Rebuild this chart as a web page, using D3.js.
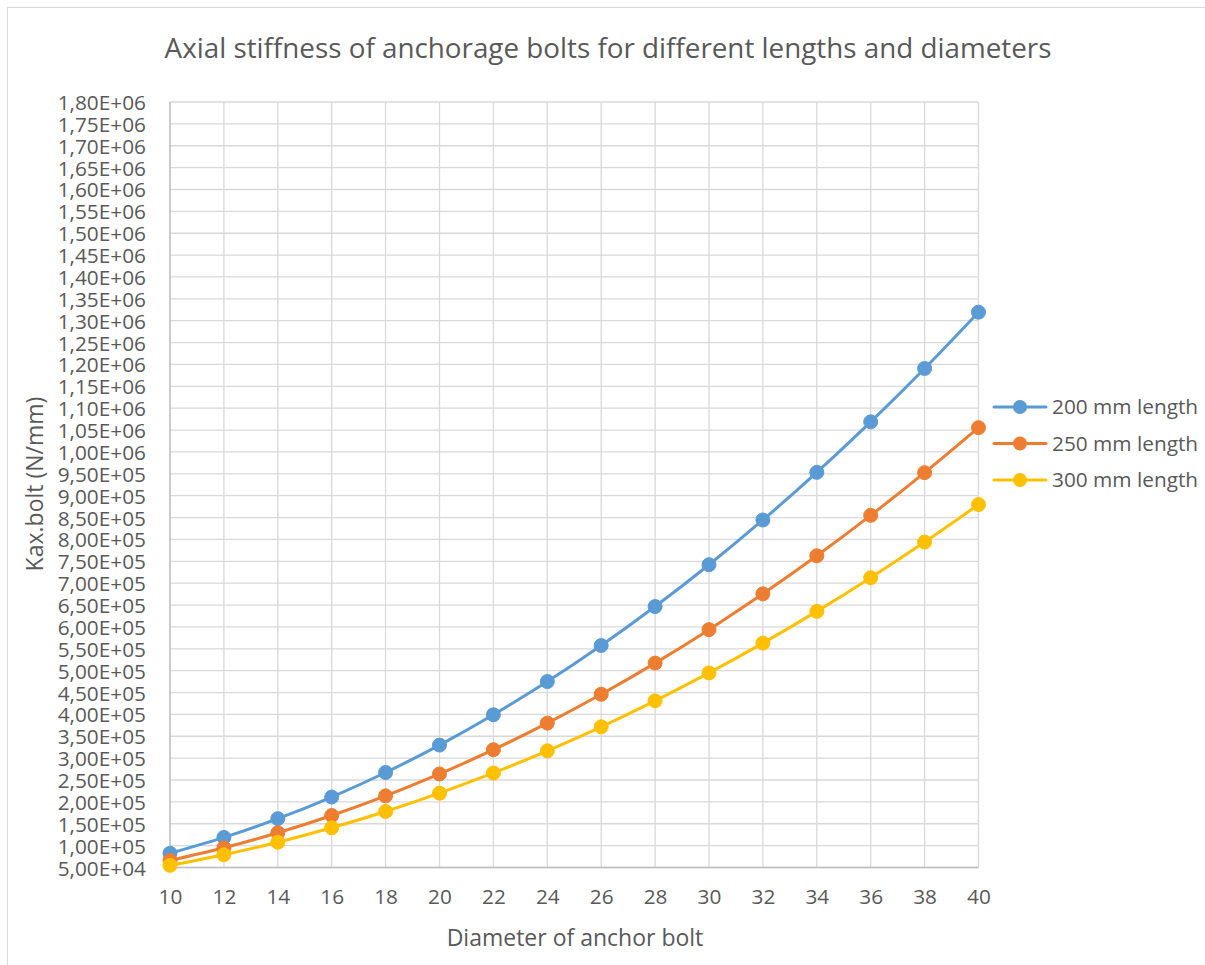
<!DOCTYPE html>
<html>
<head>
<meta charset="utf-8">
<script src="https://cdn.jsdelivr.net/npm/d3@7"></script>
<style>
  html, body { margin: 0; padding: 0; background: #fff; }
  svg { display: block; }
  text { font-family: "Open Sans", "Liberation Sans", sans-serif; fill: #595959; }
</style>
</head>
<body>
<svg id="chart" width="1205" height="965"></svg>
<script>
const diameters = [10, 12, 14, 16, 18, 20, 22, 24, 26, 28, 30, 32, 34, 36, 38, 40];
const len200 = [82467, 118752, 161635, 211115, 267192, 329867, 399139, 475009, 557476, 646540, 742201, 844460, 953316, 1068770, 1190820, 1319469];
const len250 = [65973, 95002, 129308, 168892, 213754, 263894, 319311, 380007, 445980, 517232, 593761, 675568, 762652, 855015, 952656, 1055575];
const len300 = [54978, 79168, 107757, 140743, 178128, 219911, 266093, 316673, 371651, 431027, 494801, 562974, 635545, 712513, 793880, 879646];
const seriesNames = ["200 mm length", "250 mm length", "300 mm length"];
const seriesColors = ["#5B9BD5", "#ED7D31", "#FFC000"];
const yTicks = d3.range(50000, 1800001, 50000);
const titleText = "Axial stiffness of anchorage bolts for different lengths and diameters";
const xTitle = "Diameter of anchor bolt";
const yTitle = "Kax.bolt (N/mm)";

const series = [len200, len250, len300].map((vals, i) => ({
  name: seriesNames[i], color: seriesColors[i],
  points: vals.map((v, j) => ({ x: diameters[j], y: v }))
}));

const FONT = "'Open Sans', sans-serif";
const svg = d3.select("#chart");
const plot = { left: 170, top: 102, right: 978.5, bottom: 867.5 };

// chart border
svg.append("rect").attr("x", 7.5).attr("y", 7.5).attr("width", 1205).attr("height", 965)
  .attr("fill", "none").attr("stroke", "#d9d9d9").attr("stroke-width", 1);

const x = d3.scalePoint().domain(diameters).range([plot.left, plot.right]);
const y = d3.scaleLinear().domain([50000, 1800000]).range([plot.bottom, plot.top]);

// gridlines
svg.append("g").selectAll("line.h").data(yTicks).join("line")
  .attr("x1", plot.left).attr("x2", plot.right)
  .attr("y1", d => y(d)).attr("y2", d => y(d))
  .attr("stroke", "#d9d9d9").attr("stroke-width", 1.3);
svg.append("g").selectAll("line.v").data(diameters).join("line")
  .attr("x1", d => x(d)).attr("x2", d => x(d))
  .attr("y1", plot.top).attr("y2", plot.bottom)
  .attr("stroke", "#d9d9d9").attr("stroke-width", 1.3);

// axis lines
svg.append("line").attr("x1", plot.left).attr("x2", plot.left).attr("y1", plot.top).attr("y2", plot.bottom)
  .attr("stroke", "#bfbfbf").attr("stroke-width", 1.3);
svg.append("line").attr("x1", plot.left).attr("x2", plot.right).attr("y1", plot.bottom).attr("y2", plot.bottom)
  .attr("stroke", "#bfbfbf").attr("stroke-width", 1.3);

// axes via d3
const fmt = v => {
  const s = v.toExponential(2).replace(".", ",");
  const m = s.match(/^(.*)e([+-])(\d+)$/);
  return m[1] + "E" + m[2] + m[3].padStart(2, "0");
};
const yAxis = svg.append("g").attr("transform", `translate(${plot.left},0)`)
  .call(d3.axisLeft(y).tickValues(yTicks).tickFormat(fmt).tickSize(0).tickPadding(24));
yAxis.select(".domain").remove();
yAxis.selectAll("text").attr("font-size", 20.8).attr("fill", "#595959")
  .style("font-family", FONT).attr("dy", "0.36em");

const xAxis = svg.append("g").attr("transform", `translate(0,${plot.bottom})`)
  .call(d3.axisBottom(x).tickSize(0).tickPadding(22));
xAxis.select(".domain").remove();
xAxis.selectAll("text").attr("font-size", 20.8).attr("fill", "#595959")
  .style("font-family", FONT);

// lines and markers
const line = d3.line().x(d => x(d.x)).y(d => y(d.y)).curve(d3.curveCatmullRom.alpha(0.5));
series.forEach(s => {
  svg.append("path").datum(s.points).attr("d", line)
    .attr("fill", "none").attr("stroke", s.color).attr("stroke-width", 3)
    .attr("stroke-linejoin", "round").attr("stroke-linecap", "round");
  svg.append("g").selectAll("circle").data(s.points).join("circle")
    .attr("cx", d => x(d.x)).attr("cy", d => y(d.y)).attr("r", 7)
    .attr("fill", s.color).attr("stroke", s.color).attr("stroke-width", 1);
});

// title
svg.append("text").attr("x", 608).attr("y", 58).attr("text-anchor", "middle")
  .attr("font-size", 27.8).text(titleText);
// axis titles
svg.append("text").attr("x", 575).attr("y", 946).attr("text-anchor", "middle")
  .attr("font-size", 23).text(xTitle);
svg.append("text").attr("transform", "translate(43,484) rotate(-90)").attr("text-anchor", "middle")
  .attr("font-size", 23).text(yTitle);

// legend
const legend = svg.append("g");
series.forEach((s, i) => {
  const ly = 407 + i * 36.5;
  legend.append("line").attr("x1", 994).attr("x2", 1046).attr("y1", ly).attr("y2", ly)
    .attr("stroke", s.color).attr("stroke-width", 3).attr("stroke-linecap", "round");
  legend.append("circle").attr("cx", 1020).attr("cy", ly).attr("r", 7).attr("fill", s.color);
  legend.append("text").attr("x", 1052).attr("y", ly).attr("dy", "0.36em")
    .attr("font-size", 20.8).text(s.name);
});
</script>
</body>
</html>
